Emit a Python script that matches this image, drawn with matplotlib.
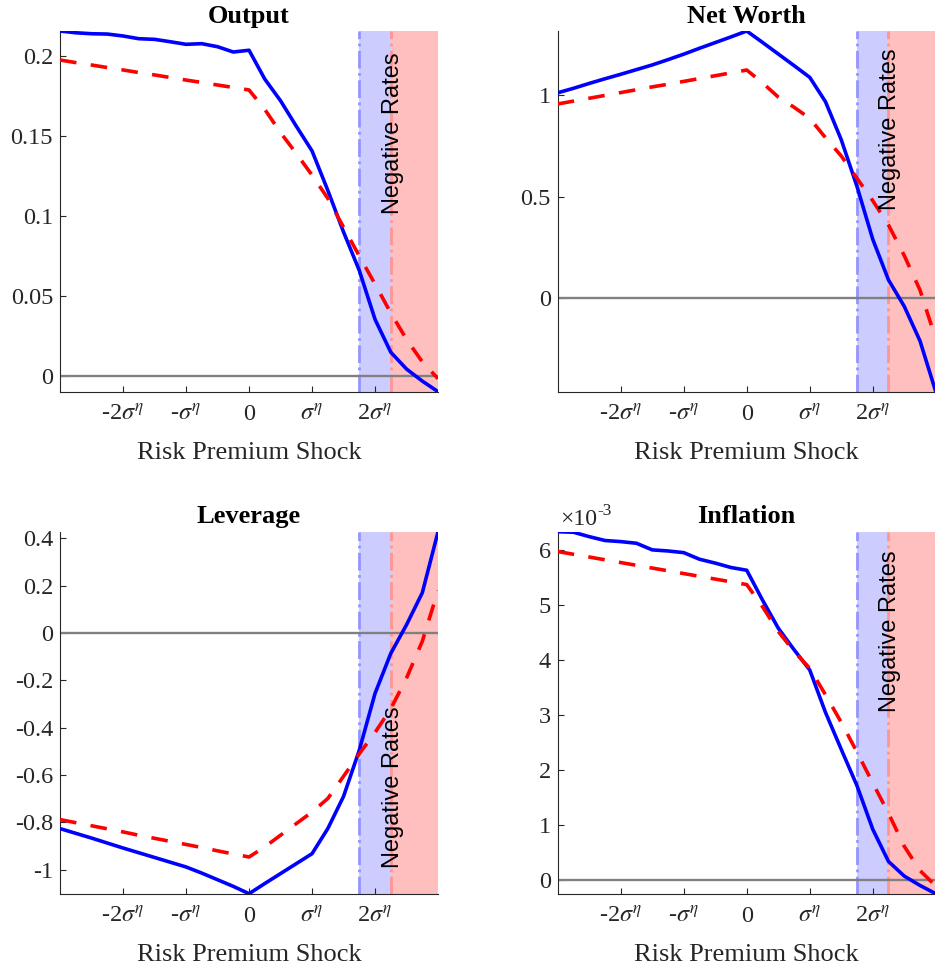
import numpy as np
import matplotlib
matplotlib.use("Agg")
import matplotlib.pyplot as plt
from matplotlib.ticker import FuncFormatter
from matplotlib.transforms import blended_transform_factory

plt.rcParams["font.family"] = ["Liberation Serif", "DejaVu Serif"]
plt.rcParams["mathtext.fontset"] = "stix"
plt.rcParams["axes.unicode_minus"] = False

# Shock size in units of sigma^eta
shock = [-3.0, -2.75, -2.5, -2.25, -2.0, -1.75, -1.5, -1.25, -1.0, -0.75, -0.5, -0.25,
         0.0, 0.25, 0.5, 0.75, 1.0, 1.25, 1.5, 1.75, 2.0, 2.25, 2.5, 2.75, 3.0]

output_solid = [0.2154, 0.2143, 0.2137, 0.2135, 0.2123, 0.2106, 0.2102, 0.2087, 0.2071, 0.2075,
                0.2056, 0.2023, 0.2034, 0.1854, 0.1719, 0.1560, 0.1406, 0.1160, 0.0900, 0.0660,
                0.0355, 0.0150, 0.0045, -0.0030, -0.0096]
output_dashed = [0.1973, 0.1957, 0.1942, 0.1926, 0.1911, 0.1895, 0.1880, 0.1864, 0.1848, 0.1833,
                 0.1817, 0.1802, 0.1786, 0.1665, 0.1520, 0.1390, 0.1255, 0.1110, 0.0930, 0.0750,
                 0.0575, 0.0395, 0.0230, 0.0090, -0.0015]

networth_solid = [1.011, 1.033, 1.057, 1.080, 1.102, 1.125, 1.148, 1.174, 1.201, 1.230,
                  1.258, 1.286, 1.315, 1.259, 1.202, 1.145, 1.087, 0.967, 0.780, 0.550,
                  0.290, 0.090, -0.040, -0.210, -0.460]
networth_dashed = [0.956, 0.970, 0.984, 0.998, 1.012, 1.026, 1.040, 1.053, 1.067, 1.081,
                   1.095, 1.109, 1.123, 1.060, 0.990, 0.940, 0.885, 0.790, 0.700, 0.590,
                   0.480, 0.360, 0.210, 0.040, -0.200]

leverage_solid = [-0.826, -0.846, -0.866, -0.887, -0.908, -0.928, -0.948, -0.968, -0.988, -1.014,
                  -1.042, -1.070, -1.101, -1.058, -1.016, -0.974, -0.932, -0.826, -0.690, -0.495,
                  -0.255, -0.086, 0.035, 0.170, 0.428]
leverage_dashed = [-0.788, -0.801, -0.814, -0.827, -0.840, -0.854, -0.867, -0.880, -0.893, -0.906,
                   -0.920, -0.933, -0.946, -0.903, -0.854, -0.805, -0.756, -0.699, -0.605, -0.510,
                   -0.420, -0.320, -0.190, -0.035, 0.180]

# Inflation in units of 1e-3
inflation_solid = [6.33, 6.32, 6.24, 6.17, 6.15, 6.12, 6.00, 5.98, 5.95, 5.83,
                   5.76, 5.68, 5.63, 5.09, 4.58, 4.19, 3.82, 3.05, 2.38, 1.72,
                   0.93, 0.345, 0.08, -0.09, -0.24]
inflation_dashed = [5.97, 5.92, 5.87, 5.82, 5.77, 5.72, 5.67, 5.62, 5.57, 5.52,
                    5.47, 5.42, 5.37, 4.97, 4.52, 4.16, 3.85, 3.37, 2.87, 2.33,
                    1.77, 1.22, 0.62, 0.18, -0.10]

titles = ["Output", "Net Worth", "Leverage", "Inflation"]
yticks = [[0, 0.05, 0.1, 0.15, 0.2],
          [0, 0.5, 1],
          [-1, -0.8, -0.6, -0.4, -0.2, 0, 0.2, 0.4],
          [0, 1, 2, 3, 4, 5, 6]]
xtick_pos = [-2, -1, 0, 1, 2]
xtick_labels = [r"-2$\sigma^\eta$", r"-$\sigma^\eta$", "0", r"$\sigma^\eta$", r"2$\sigma^\eta$"]
zlb_start, neg_start, shock_max = 1.75, 2.25, 3.0
text_height = [0.716, 0.728, 0.293, 0.726]

series = [(output_solid, output_dashed), (networth_solid, networth_dashed),
          (leverage_solid, leverage_dashed), (inflation_solid, inflation_dashed)]

positions = [[0.0642, 0.5958, 0.4043, 0.3722],
             [0.5965, 0.5958, 0.4043, 0.3722],
             [0.0642, 0.0777, 0.4043, 0.3736],
             [0.5965, 0.0777, 0.4043, 0.3736]]

axis_gray = "#262626"

fig = plt.figure(figsize=(9.35, 9.69), dpi=100)

for i, (solid, dashed) in enumerate(series):
    ax = fig.add_axes(positions[i])
    ax.axvspan(zlb_start, neg_start, color=(0.8, 0.8, 1.0), lw=0, zorder=0)
    ax.axvspan(neg_start, shock_max, color=(1.0, 0.75, 0.75), lw=0, zorder=0)
    ax.axvline(zlb_start, color=(0.58, 0.58, 1.0), ls="-.", lw=2.0, zorder=1)
    ax.axvline(neg_start, color=(1.0, 0.58, 0.58), ls="-.", lw=2.0, zorder=1)
    ax.axhline(0, color=(0.5, 0.5, 0.5), lw=1.7, zorder=2)
    ax.plot(shock, solid, color=(0, 0, 1), lw=2.6, zorder=3)
    ax.plot(shock, dashed, color=(1, 0, 0), lw=2.6, dashes=(4.6, 4.0), zorder=4)

    lo = min(min(solid), min(dashed))
    hi = max(max(solid), max(dashed))
    ax.set_xlim(shock[0], shock[-1])
    ax.set_ylim(lo, hi)

    ax.set_xticks(xtick_pos)
    ax.set_xticklabels(xtick_labels)
    ax.set_yticks(yticks[i])
    ax.yaxis.set_major_formatter(FuncFormatter(lambda v, p: "%g" % v))

    for s in ("top", "right"):
        ax.spines[s].set_visible(False)
    for s in ("left", "bottom"):
        ax.spines[s].set_color(axis_gray)
        ax.spines[s].set_linewidth(0.8)
    ax.tick_params(direction="in", length=4, width=0.8, color=axis_gray,
                   labelcolor=axis_gray, labelsize=17.5)
    ax.tick_params(axis="x", pad=9)
    ax.tick_params(axis="y", pad=5)

    ax.set_title(titles[i], fontsize=19, fontweight="bold", pad=6, color="k")
    ax.set_xlabel("Risk Premium Shock", fontsize=19, color=axis_gray, labelpad=12)

    trans = blended_transform_factory(ax.transData, ax.transAxes)
    ax.text(2.28, text_height[i], "Negative Rates", transform=trans, rotation=90,
            ha="center", va="center", fontsize=17, color="k",
            family=["Liberation Sans", "DejaVu Sans"], zorder=5)

    if titles[i] == "Inflation":
        ax.text(0.006, 1.0185, "\u00d710", transform=ax.transAxes, ha="left",
                va="baseline", fontsize=17, color=axis_gray)
        ax.text(0.106, 1.046, "-3", transform=ax.transAxes, ha="left",
                va="baseline", fontsize=12.5, color=axis_gray)

fig.savefig("out.png", dpi=100)
